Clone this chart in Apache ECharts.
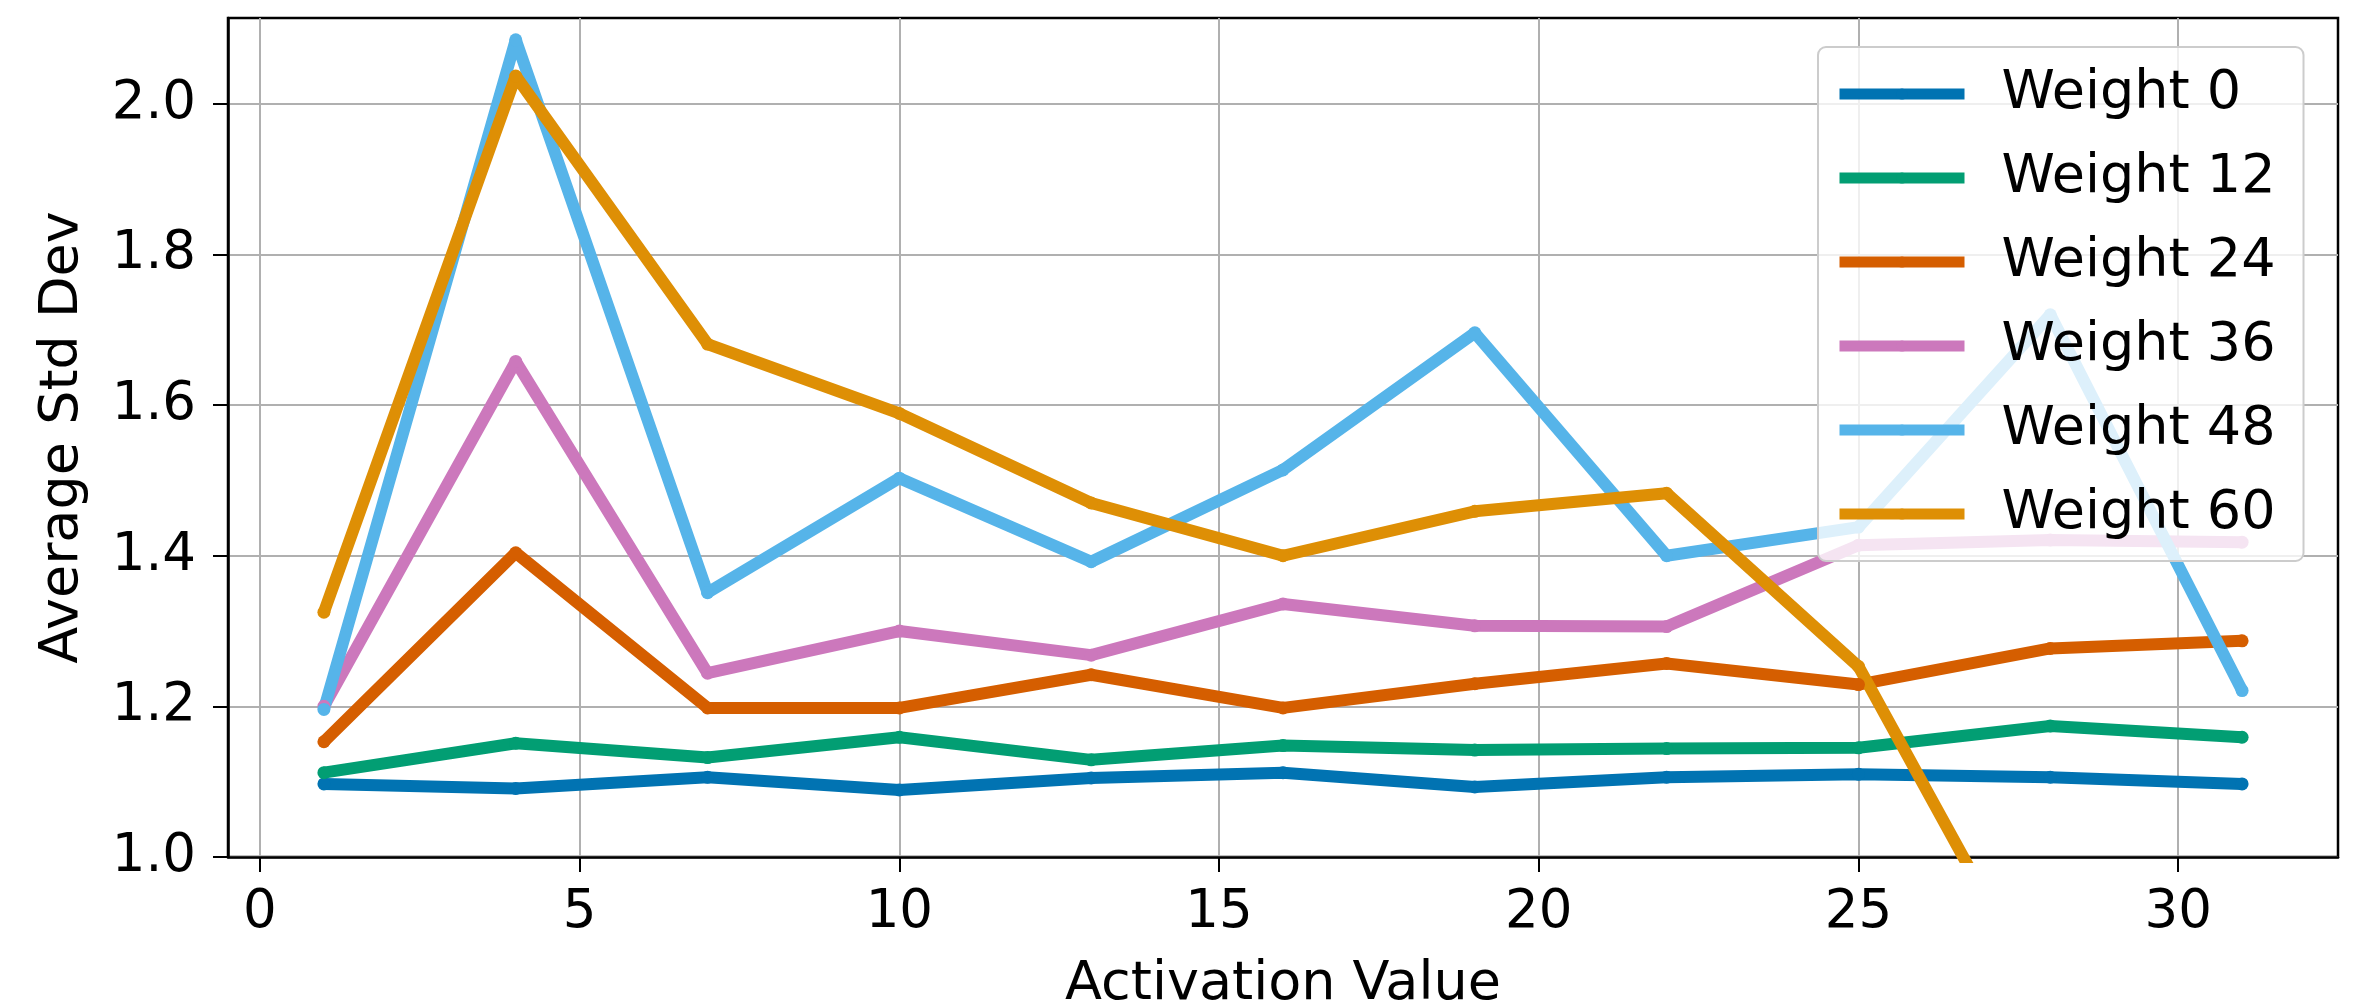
<!DOCTYPE html>
<html style="height: 100%">
<head>
    <meta charset="utf-8">
    <title>Average Std Dev</title>
    <script src="https://cdn.jsdelivr.net/npm/echarts@6/dist/echarts.min.js"></script>
</head>
<body style="height: 100%; margin: 0; background: #fff">
<div id="main" style="width: 2362px; height: 1000px"></div>
<script type="text/javascript">
    // activation values on the x axis
    var activations = [1, 4, 7, 10, 13, 16, 19, 22, 25, 28, 31];

    var weight0  = [1.097, 1.091, 1.106, 1.089, 1.105, 1.112, 1.093, 1.106, 1.110, 1.106, 1.097];
    var weight12 = [1.112, 1.151, 1.132, 1.159, 1.129, 1.148, 1.142, 1.144, 1.145, 1.174, 1.159];
    var weight24 = [1.153, 1.404, 1.198, 1.198, 1.242, 1.198, 1.230, 1.257, 1.229, 1.277, 1.287];
    var weight36 = [1.200, 1.658, 1.244, 1.300, 1.268, 1.336, 1.307, 1.306, 1.414, 1.421, 1.418];
    var weight48 = [1.196, 2.085, 1.351, 1.503, 1.392, 1.514, 1.696, 1.400, 1.438, 1.720, 1.221];
    // last two points fall below the visible range
    var weight60 = [1.325, 2.037, 1.681, 1.589, 1.470, 1.400, 1.459, 1.483, 1.253, 0.790, 0.800];

    var seriesNames = ['Weight 0', 'Weight 12', 'Weight 24', 'Weight 36', 'Weight 48', 'Weight 60'];
    var seriesValues = [weight0, weight12, weight24, weight36, weight48, weight60];
    var colors = ['#0173b2', '#029e73', '#d55e00', '#cc78bc', '#56b4e9', '#de8f05'];

    var xTicks = [0, 5, 10, 15, 20, 25, 30];
    var yTicks = [1.0, 1.2, 1.4, 1.6, 1.8, 2.0];

    var font = 'DejaVu Sans';

    function pairs(ys) {
        var res = [];
        for (var i = 0; i < activations.length; i++) {
            res.push([activations[i], ys[i]]);
        }
        return res;
    }

    var series = [];
    for (var i = 0; i < seriesNames.length; i++) {
        series.push({
            name: seriesNames[i],
            type: 'line',
            data: pairs(seriesValues[i]),
            symbol: 'circle',
            symbolSize: 13,
            showSymbol: true,
            clip: true,
            color: colors[i],
            lineStyle: { width: 12, color: colors[i] },
            itemStyle: { color: colors[i] },
            emphasis: { disabled: true }
        });
    }

    var chart = echarts.init(document.getElementById('main'));
    chart.setOption({
        animation: false,
        backgroundColor: '#fff',
        grid: {
            left: 228, right: 24, top: 18, bottom: 143,
            outerBoundsMode: 'none', containLabel: false,
            show: true, borderColor: '#000', borderWidth: 2.5, backgroundColor: '#fff'
        },
        legend: {
            orient: 'vertical',
            left: 1818, top: 47,
            padding: [17, 28, 17, 16],
            backgroundColor: 'rgba(255,255,255,0.8)',
            borderColor: '#cccccc', borderWidth: 2, borderRadius: 8,
            itemWidth: 125, itemHeight: 14, itemGap: 24,
            lineStyle: { width: 11 },
            textStyle: { fontFamily: font, fontSize: 54, color: '#000', lineHeight: 60, padding: [0, 0, 0, 32] },
            data: seriesNames
        },
        xAxis: {
            type: 'value',
            min: -0.5, max: 32.5,
            name: 'Activation Value',
            nameLocation: 'middle',
            nameGap: 101,
            nameTextStyle: { fontFamily: font, fontSize: 54, color: '#000' },
            axisLine: { show: true, onZero: false, lineStyle: { color: '#000', width: 2.5 } },
            axisTick: { show: true, customValues: xTicks, length: 15, lineStyle: { color: '#000', width: 2 } },
            axisLabel: { customValues: xTicks, margin: 30, fontFamily: font, fontSize: 53, color: '#000' },
            splitLine: { show: true, lineStyle: { color: '#b0b0b0', width: 2 } }
        },
        yAxis: {
            type: 'value',
            min: 1.0, max: 2.114,
            name: 'Average Std Dev',
            nameLocation: 'middle',
            nameRotate: 90,
            nameGap: 138,
            nameTextStyle: { fontFamily: font, fontSize: 54, color: '#000' },
            axisLine: { show: true, onZero: false, lineStyle: { color: '#000', width: 2.5 } },
            axisTick: { show: true, customValues: yTicks, length: 15, lineStyle: { color: '#000', width: 2 } },
            axisLabel: {
                customValues: yTicks, margin: 32, fontFamily: font, fontSize: 53, color: '#000',
                formatter: function (v) { return v.toFixed(1); }
            },
            splitLine: { show: true, lineStyle: { color: '#b0b0b0', width: 2 } }
        },
        series: series
    });
</script>
</body>
</html>
